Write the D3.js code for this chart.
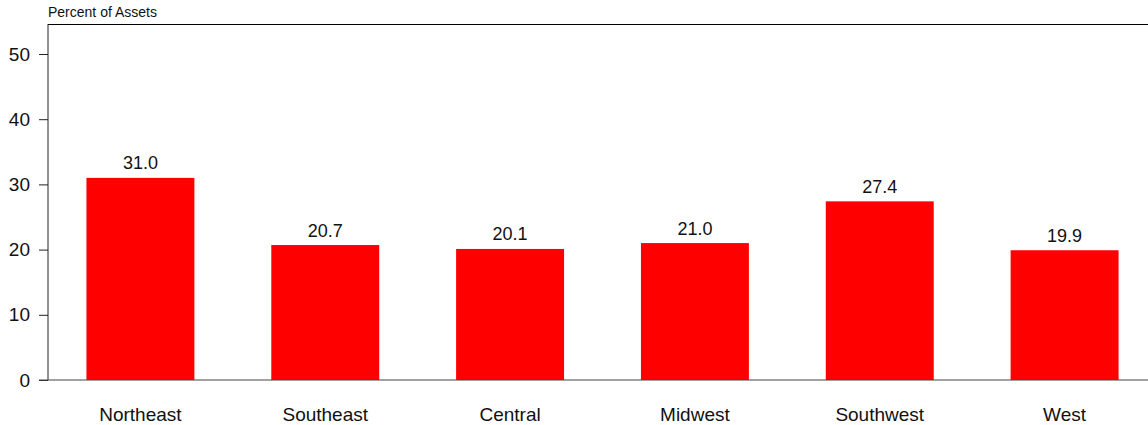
<!DOCTYPE html>
<html>
<head>
<meta charset="utf-8">
<script src="https://cdn.jsdelivr.net/npm/d3@7"></script>
<style>
    body { margin: 0; background: #fff; }
    svg { display: block; font-family: "Liberation Sans", Arial, sans-serif; }
</style>
</head>
<body>
<div id="chart"></div>
<script>
var regions = ['Northeast', 'Southeast', 'Central', 'Midwest', 'Southwest', 'West'];
var shares = [31.0, 20.7, 20.1, 21.0, 27.4, 19.9];
var yTicks = [0, 10, 20, 30, 40, 50];

var width = 1148, height = 425,
    margin = {
        top: 24,
        bottom: 45,
        left: 48,
        right: -9
    };
var w = width - margin.left - margin.right,
    h = height - margin.top - margin.bottom;

var svg = d3.select('#chart').append('svg')
    .attr('width', width)
    .attr('height', height);

var g = svg.append('g')
    .attr('transform', 'translate(' + [margin.left, margin.top] + ')');

var x = d3.scaleBand().range([0, w]).domain(regions).paddingInner(0.416).paddingOuter(0.208);
var y = d3.scaleLinear().range([h, 0]).domain([0, 54.6]);

// bars
g.selectAll('.bar').data(regions).enter()
    .append('rect')
    .attr('class', 'bar')
    .attr('fill', '#ff0000')
    .attr('x', function(d){ return x(d) })
    .attr('width', x.bandwidth())
    .attr('y', function(d, i){ return y(shares[i]) })
    .attr('height', function(d, i){ return h - y(shares[i]) });

// value labels
g.selectAll('.val').data(regions).enter()
    .append('text')
    .attr('text-anchor', 'middle')
    .attr('font-size', 18)
    .attr('fill', '#111')
    .attr('x', function(d){ return x(d) + x.bandwidth() / 2 })
    .attr('y', function(d, i){ return y(shares[i]) - 8.5 })
    .text(function(d, i){ return shares[i].toFixed(1) });

// y axis
var yAxis = d3.axisLeft(y).tickValues(yTicks).tickSize(9).tickPadding(9);
var gy = g.append('g').call(yAxis);
gy.select('.domain').remove();
gy.selectAll('text').attr('font-size', 19).attr('fill', '#111').attr('font-family', null);
gy.selectAll('line').attr('stroke', '#222');

g.append('line')
    .attr('x1', 0).attr('x2', 0)
    .attr('y1', 0).attr('y2', h)
    .attr('stroke', '#222');

// x axis baseline
g.append('line')
    .attr('x1', -9).attr('x2', w)
    .attr('y1', h).attr('y2', h)
    .attr('stroke', '#444');

// top border
g.append('line')
    .attr('x1', 0).attr('x2', w)
    .attr('y1', 0.5).attr('y2', 0.5)
    .attr('stroke', '#000');

// category labels
g.selectAll('.cat').data(regions).enter()
    .append('text')
    .attr('text-anchor', 'middle')
    .attr('font-size', 19)
    .attr('fill', '#111')
    .attr('x', function(d){ return x(d) + x.bandwidth() / 2 })
    .attr('y', h + 41)
    .text(function(d){ return d });

// title
svg.append('text')
    .attr('x', 48)
    .attr('y', 17)
    .attr('font-size', 14)
    .attr('fill', '#111')
    .text('Percent of Assets');
</script>
</body>
</html>
